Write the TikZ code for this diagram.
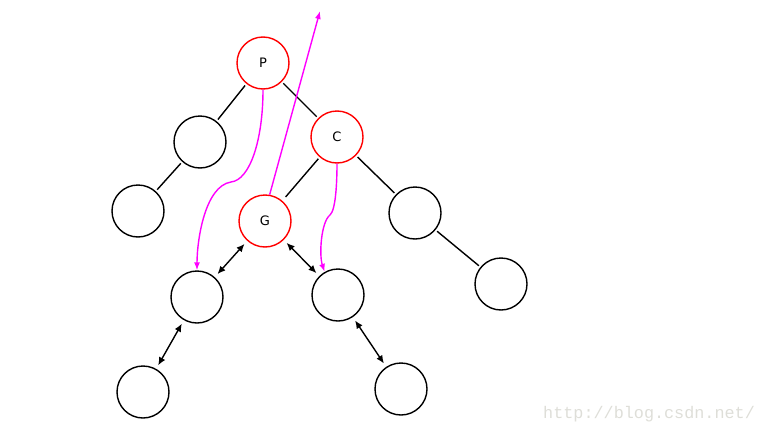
\documentclass[tikz,border=0pt]{standalone}
\usepackage{fontspec}
\setmainfont{DejaVu Sans}
\newfontfamily\wmfont{Liberation Mono}
\usetikzlibrary{arrows.meta}
\definecolor{mag}{RGB}{255,0,255}
\definecolor{wm}{RGB}{222,222,216}
\begin{document}
\begin{tikzpicture}[x=1pt,y=-1pt,
  nd/.style={circle,draw=black,line width=1.4pt,minimum size=52pt,inner sep=0pt,font=\fontsize{13}{15}\selectfont},
  rd/.style={nd,draw=red},
  edge/.style={line width=1.4pt,shorten <=2pt,shorten >=2pt},
  dbl/.style={line width=1.4pt,{Latex[length=8pt,width=7pt]}-{Latex[length=8pt,width=7pt]},shorten <=4pt,shorten >=4pt},
  mg/.style={draw=mag,line width=1.4pt,-{Latex[length=8pt,width=6pt]}}]
\useasboundingbox (0,0) rectangle (766,434);
\node[rd] (P) at (263,63) {P};
\node[nd] (A) at (200,142) {};
\node[nd] (B) at (138,211) {};
\node[rd] (C) at (337,137) {C};
\node[rd] (G) at (265,221) {G};
\node[nd] (D) at (415,213) {};
\node[nd] (E) at (501,284) {};
\node[nd] (L) at (197,297) {};
\node[nd] (R) at (338,295) {};
\node[nd] (LL) at (143,392) {};
\node[nd] (RR) at (401,389) {};
\coordinate (top) at (320,11);
\draw[edge] (P) -- (A);
\draw[edge] (P) -- (C);
\draw[edge] (A) -- (B);
\draw[edge,shorten >=5pt] (C) -- (G);
\draw[edge] (C) -- (D);
\draw[edge] (D) -- (E);
\draw[dbl] (L) -- (G);
\draw[dbl] (G) -- (R);
\draw[dbl] (LL) -- (L);
\draw[dbl] (R) -- (RR);
\draw[mg] (G.80) -- (top);
\draw[mg] (P.south) .. controls (263,140) and (250,180) .. (231,182)
  .. controls (205,186) and (197,240) .. (L.north);
\draw[mg] (C.south) .. controls (337,180) and (336,210) .. (330,215)
  .. controls (321,222) and (319,255) .. (R.120);
\node[font=\wmfont\fontsize{16.8}{18}\selectfont,text=wm,anchor=base west,inner sep=0pt] (wmk) at (543,418) {http://blog.csdn.net/};
\end{tikzpicture}
\end{document}
